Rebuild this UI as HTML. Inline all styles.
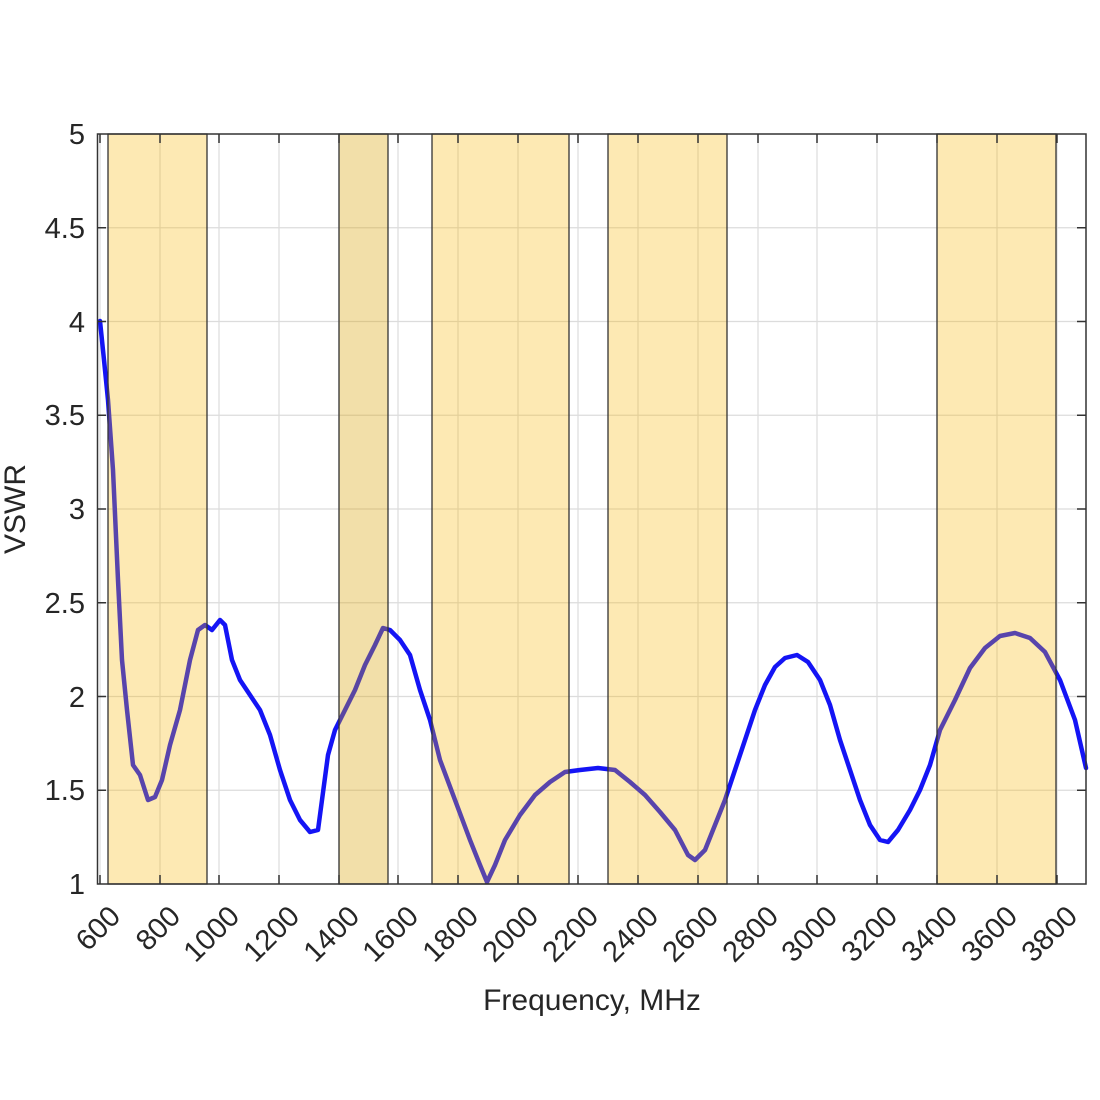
<!DOCTYPE html>
<html><head><meta charset="utf-8"><style>
html,body{margin:0;padding:0;background:#fff;}
svg{display:block;font-family:"Liberation Sans",sans-serif;}
</style></head><body>
<svg width="1100" height="1100" viewBox="0 0 1100 1100" xmlns="http://www.w3.org/2000/svg">
<rect width="1100" height="1100" fill="#fff"/>
<g stroke="#dcdcdc" stroke-width="1.2">
<line x1="100" y1="134" x2="100" y2="884"/><line x1="160" y1="134" x2="160" y2="884"/>
<line x1="219" y1="134" x2="219" y2="884"/><line x1="279" y1="134" x2="279" y2="884"/>
<line x1="339" y1="134" x2="339" y2="884"/><line x1="398" y1="134" x2="398" y2="884"/>
<line x1="458" y1="134" x2="458" y2="884"/><line x1="518" y1="134" x2="518" y2="884"/>
<line x1="578" y1="134" x2="578" y2="884"/><line x1="638" y1="134" x2="638" y2="884"/>
<line x1="698" y1="134" x2="698" y2="884"/><line x1="758" y1="134" x2="758" y2="884"/>
<line x1="817" y1="134" x2="817" y2="884"/><line x1="877" y1="134" x2="877" y2="884"/>
<line x1="937" y1="134" x2="937" y2="884"/><line x1="997" y1="134" x2="997" y2="884"/>
<line x1="1057" y1="134" x2="1057" y2="884"/>
<line x1="97" y1="227.75" x2="1086" y2="227.75"/><line x1="97" y1="321.5" x2="1086" y2="321.5"/>
<line x1="97" y1="415.25" x2="1086" y2="415.25"/><line x1="97" y1="509" x2="1086" y2="509"/>
<line x1="97" y1="602.75" x2="1086" y2="602.75"/><line x1="97" y1="696.5" x2="1086" y2="696.5"/>
<line x1="97" y1="790.25" x2="1086" y2="790.25"/>
</g>
<polyline fill="none" stroke="#1414f5" stroke-width="4.5" stroke-linejoin="round" stroke-linecap="round" points="100,321 104,360 108,400 113,470 118,580 122,660 127,710 133,765 140,775 148,800 155,797 162,780 170,745 180,710 190,660 198,630 205,625 212,630 220,620 225,625 232,660 240,680 250,695 260,710 270,735 280,770 290,800 300,820 310,832 318,830 322,800 328,755 335,730 345,710 355,690 365,665 375,645 383,628 390,630 400,640 410,655 420,690 430,720 440,760 455,800 470,840 480,865 487,882 495,865 505,840 520,815 535,795 550,782 565,772 580,770 598,768 615,770 630,782 645,795 660,812 675,830 688,855 695,860 705,850 715,825 725,800 735,770 745,740 755,710 765,685 775,667 785,658 797,655 808,662 820,680 830,705 840,740 850,770 860,800 870,825 880,840 888,842 898,830 910,810 920,790 930,765 940,730 955,700 970,668 985,648 1000,636 1015,633 1030,638 1045,652 1060,680 1075,720 1086,768"/>
<g stroke="#333" stroke-width="1.3">
<rect x="108" y="134" width="99" height="750" fill="rgb(248,182,2)" fill-opacity="0.3"/>
<rect x="339" y="134" width="49" height="750" fill="rgb(218,164,9)" fill-opacity="0.35"/>
<rect x="432" y="134" width="137" height="750" fill="rgb(248,182,2)" fill-opacity="0.3"/>
<rect x="608" y="134" width="119" height="750" fill="rgb(248,182,2)" fill-opacity="0.3"/>
<rect x="937" y="134" width="119" height="750" fill="rgb(248,182,2)" fill-opacity="0.3"/>
</g>
<rect x="97.5" y="134" width="988.5" height="750" fill="none" stroke="#333" stroke-width="1.5"/>
<g stroke="#333" stroke-width="1.5">
<path d="M100 884v-9M160 884v-9M219 884v-9M279 884v-9M339 884v-9M398 884v-9M458 884v-9M518 884v-9M578 884v-9M638 884v-9M698 884v-9M758 884v-9M817 884v-9M877 884v-9M937 884v-9M997 884v-9M1057 884v-9"/>
<path d="M100 134v9M160 134v9M219 134v9M279 134v9M339 134v9M398 134v9M458 134v9M518 134v9M578 134v9M638 134v9M698 134v9M758 134v9M817 134v9M877 134v9M937 134v9M997 134v9M1057 134v9"/>
<path d="M97 227.75h9M97 321.5h9M97 415.25h9M97 509h9M97 602.75h9M97 696.5h9M97 790.25h9"/>
<path d="M1086 227.75h-9M1086 321.5h-9M1086 415.25h-9M1086 509h-9M1086 602.75h-9M1086 696.5h-9M1086 790.25h-9"/>
</g>
<g font-size="29" fill="#262626" text-anchor="end">
<text x="85" y="144">5</text><text x="85" y="238">4.5</text><text x="85" y="332">4</text>
<text x="85" y="425">3.5</text><text x="85" y="519">3</text><text x="85" y="613">2.5</text>
<text x="85" y="707">2</text><text x="85" y="800">1.5</text><text x="85" y="894">1</text>
</g>
<g font-size="29" fill="#262626" text-anchor="end">
<text transform="translate(122,918) rotate(-45)">600</text>
<text transform="translate(182,918) rotate(-45)">800</text>
<text transform="translate(241,918) rotate(-45)">1000</text>
<text transform="translate(301,918) rotate(-45)">1200</text>
<text transform="translate(361,918) rotate(-45)">1400</text>
<text transform="translate(420,918) rotate(-45)">1600</text>
<text transform="translate(480,918) rotate(-45)">1800</text>
<text transform="translate(540,918) rotate(-45)">2000</text>
<text transform="translate(600,918) rotate(-45)">2200</text>
<text transform="translate(660,918) rotate(-45)">2400</text>
<text transform="translate(720,918) rotate(-45)">2600</text>
<text transform="translate(780,918) rotate(-45)">2800</text>
<text transform="translate(839,918) rotate(-45)">3000</text>
<text transform="translate(899,918) rotate(-45)">3200</text>
<text transform="translate(959,918) rotate(-45)">3400</text>
<text transform="translate(1019,918) rotate(-45)">3600</text>
<text transform="translate(1079,918) rotate(-45)">3800</text>
</g>
<text x="592" y="1010" font-size="30" fill="#262626" text-anchor="middle">Frequency, MHz</text>
<text transform="translate(25,509) rotate(-90)" font-size="30" fill="#262626" text-anchor="middle">VSWR</text>
</svg>
</body></html>
